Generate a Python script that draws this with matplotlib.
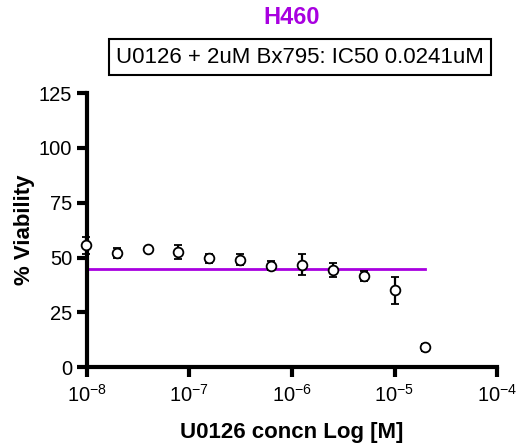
import matplotlib
matplotlib.use("Agg")
import matplotlib.pyplot as plt
import numpy as np

plt.rcParams['font.family'] = ['Liberation Sans', 'DejaVu Sans']

conc_M = [9.77e-9, 1.95e-8, 3.91e-8, 7.81e-8, 1.56e-7, 3.13e-7, 6.25e-7,
          1.25e-6, 2.5e-6, 5e-6, 1e-5, 2e-5]
viability = [55.5, 52.2, 53.8, 52.7, 49.6, 49.0, 46.3, 46.8, 44.3, 41.7, 35.0, 9.0]
err = [4.0, 2.2, 0.8, 3.2, 2.0, 2.5, 2.0, 5.0, 3.4, 2.2, 6.0, 1.5]
fit_x = [9.77e-9, 2e-5]
fit_y = [44.8, 44.8]

title = "H460"
subtitle = "U0126 + 2uM Bx795: IC50 0.0241uM"
purple = '#A800E0'

fig = plt.figure(figsize=(5.26, 4.46), dpi=100)
ax = fig.add_axes([0.165, 0.177, 0.78, 0.614])

ax.plot(fit_x, fit_y, color=purple, lw=2, zorder=2, clip_on=False)
ax.errorbar(conc_M, viability, yerr=err, fmt='o', mfc='white', mec='black',
            mew=1.3, ms=7, ecolor='black', elinewidth=1.6, capsize=3,
            capthick=1.6, zorder=3, clip_on=False)

ax.set_xscale('log')
ax.set_xlim(1e-8, 1e-4)
ax.set_ylim(0, 125)
ax.set_yticks([0, 25, 50, 75, 100, 125])
ax.set_xticks([1e-8, 1e-7, 1e-6, 1e-5, 1e-4])
ax.xaxis.set_minor_locator(matplotlib.ticker.NullLocator())

for s in ['top', 'right']:
    ax.spines[s].set_visible(False)
for s in ['left', 'bottom']:
    ax.spines[s].set_linewidth(3)
ax.tick_params(axis='both', width=3, length=7, labelsize=14.5, direction='out')
ax.tick_params(axis='x', pad=5)

ax.set_xlabel("U0126 concn Log [M]", fontsize=16, fontweight='bold', labelpad=12)
ax.set_ylabel("% Viability", fontsize=16, fontweight='bold', labelpad=3)

fig.text(0.555, 0.96, title, ha='center', va='center', fontsize=17,
         fontweight='bold', color=purple)
fig.text(0.57, 0.872, subtitle, ha='center', va='center', fontsize=16,
         bbox=dict(boxstyle='square,pad=0.32', fc='white', ec='black', lw=1.5))

fig.savefig('out.png', dpi=100)
